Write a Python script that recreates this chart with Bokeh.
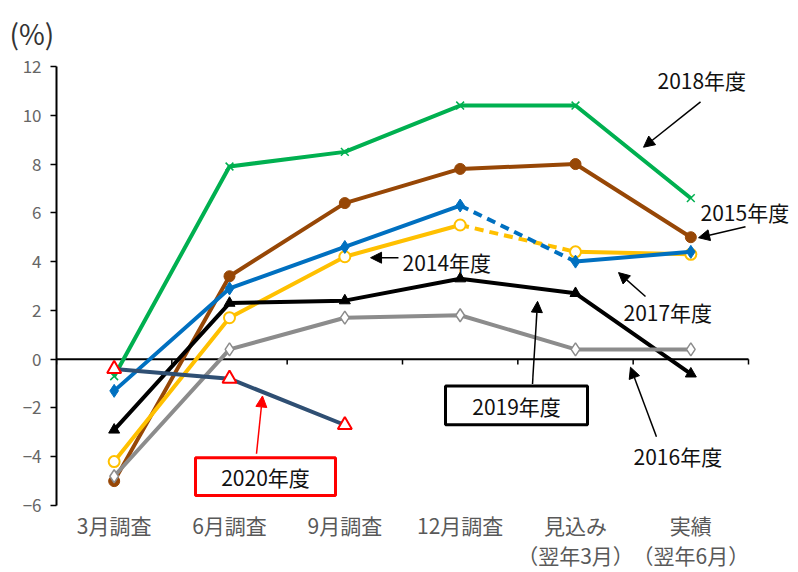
from bokeh.plotting import figure
from bokeh.models import (Range1d, FixedTicker, Arrow, NormalHead, Label,
                          BoxAnnotation)
from bokeh.embed import file_html
from bokeh.resources import INLINE

FONT = "Noto Sans CJK JP"

categories = ["3月調査", "6月調査", "9月調査", "12月調査", "見込み", "実績"]
sub_labels = ["", "", "", "", "（翌年3月）", "（翌年6月）"]
y_ticks = [-6, -4, -2, 0, 2, 4, 6, 8, 10, 12]

fy2014 = [-1.3, 2.9, 4.6, 6.3, 4.0, 4.4]
fy2015 = [-5.0, 3.4, 6.4, 7.8, 8.0, 5.0]
fy2016 = [-4.8, 0.4, 1.7, 1.8, 0.4, 0.4]
fy2017 = [-4.2, 1.7, 4.2, 5.5, 4.4, 4.3]
fy2018 = [-0.7, 7.9, 8.5, 10.4, 10.4, 6.6]
fy2019 = [-2.9, 2.3, 2.4, 3.3, 2.7, -0.6]
fy2020 = [-0.4, -0.8, -2.7]

n = len(categories)
xs = [i + 0.5 for i in range(n)]

W, H = 798, 572
LEFT, TOP, BOTTOM = 56, 66, 65
AXIS_W = 692          # pixel width of the category area
# frame extends to the right edge so that right-side notes are not clipped
x_end = n * (W - LEFT) / AXIS_W

p = figure(width=W, height=H, output_backend="svg", toolbar_location=None,
           x_range=Range1d(0, x_end), y_range=Range1d(y_ticks[0], y_ticks[-1]),
           min_border_left=LEFT, min_border_right=0, min_border_top=TOP,
           min_border_bottom=BOTTOM)
p.outline_line_color = None
p.grid.visible = False
p.background_fill_color = "white"
p.border_fill_color = "white"

# unit label "(%)" above the y axis
p.title.text = "(%)"
p.title.text_font = FONT
p.title.text_font_size = "28px"
p.title.text_font_style = "normal"
p.title.text_color = "#333333"
p.title.align = "left"
p.title.vertical_align = "top"
p.title.offset = -47
p.title.standoff = 24

# y axis
p.yaxis.ticker = FixedTicker(ticks=y_ticks)
p.yaxis.axis_line_color = "black"
p.yaxis.axis_line_width = 2
p.yaxis.major_tick_out = 6
p.yaxis.major_tick_in = 0
p.yaxis.major_tick_line_width = 1.5
p.yaxis.minor_tick_line_color = None
p.yaxis.major_label_text_font = FONT
p.yaxis.major_label_text_font_size = "17px"
p.yaxis.major_label_text_color = "#666666"
p.yaxis.major_label_standoff = 9

# x axis (labels only)
p.xaxis.ticker = FixedTicker(ticks=xs)
p.xaxis.major_label_overrides = {
    x: (c + "\n" + s) if s else c for x, c, s in zip(xs, categories, sub_labels)}
p.xaxis.axis_line_color = None
p.xaxis.major_tick_line_color = None
p.xaxis.minor_tick_line_color = None
p.xaxis.major_tick_out = 0
p.xaxis.major_label_text_font = FONT
p.xaxis.major_label_text_font_size = "21px"
p.xaxis.major_label_text_color = "#595959"
p.xaxis.major_label_text_line_height = 1.0
p.xaxis.major_label_standoff = 4

# zero line with category ticks
bounds = list(range(n + 1))
p.line([bounds[0], bounds[-1]], [0, 0], line_color="black", line_width=2)
p.segment(x0=bounds, y0=[0] * len(bounds), x1=bounds, y1=[-0.22] * len(bounds),
          line_color="black", line_width=1.5)

LW = 4
# 2018 green
p.line(xs, fy2018, line_color="#00B050", line_width=LW)
p.scatter(xs, fy2018, marker="x", size=11, line_color="#00B050", line_width=1.5)
# 2015 brown
p.line(xs, fy2015, line_color="#974706", line_width=LW)
p.scatter(xs, fy2015, marker="circle", size=11, fill_color="#974706",
          line_color="#974706")
# 2017 yellow (dashed 12月 -> 見込み)
p.line(xs[:4], fy2017[:4], line_color="#FFC000", line_width=LW)
p.line(xs[3:5], fy2017[3:5], line_color="#FFC000", line_width=LW, line_dash="9 6")
p.line(xs[4:], fy2017[4:], line_color="#FFC000", line_width=LW)
p.scatter(xs, fy2017, marker="circle", size=11, fill_color="white",
          line_color="#FFC000", line_width=2)
# 2014 blue (dashed 12月 -> 見込み)
p.line(xs[:4], fy2014[:4], line_color="#0070C0", line_width=LW)
p.line(xs[3:5], fy2014[3:5], line_color="#0070C0", line_width=LW, line_dash="9 6")
p.line(xs[4:], fy2014[4:], line_color="#0070C0", line_width=LW)
p.scatter(xs, fy2014, marker="diamond", size=13, fill_color="#0070C0",
          line_color="#0070C0")
# 2019 black
p.line(xs, fy2019, line_color="black", line_width=LW)
p.scatter(xs, fy2019, marker="triangle", size=11, fill_color="black",
          line_color="black")
# 2016 gray
p.line(xs, fy2016, line_color="#8C8C8C", line_width=LW)
p.scatter(xs, fy2016, marker="diamond", size=13, fill_color="white",
          line_color="#8C8C8C", line_width=1.5)
# 2020
x20 = xs[:len(fy2020)]
p.line(x20, fy2020, line_color="#2F4F73", line_width=LW)
p.scatter(x20, fy2020, marker="triangle", size=14, fill_color="white",
          line_color="#FF0000", line_width=2)

# annotations: arrows
def arrow(x0, y0, x1, y1, color="black"):
    p.add_layout(Arrow(x_start=x0, y_start=y0, x_end=x1, y_end=y1,
                       line_color=color, line_width=1.5,
                       end=NormalHead(size=11, fill_color=color, line_color=color)))

arrow(5.584, 10.55, 5.09, 8.69)      # 2018
arrow(5.974, 5.43, 5.567, 4.98)      # 2015
arrow(2.965, 4.16, 2.723, 4.16)      # 2014
arrow(5.107, 2.57, 4.873, 3.55)      # 2017
arrow(4.127, -1.02, 4.171, 2.37)     # 2019
arrow(5.202, -3.18, 4.977, -0.33)    # 2016
arrow(1.734, -3.88, 1.786, -1.51, "#FF0000")  # 2020

def txt(x, y, s, align="left"):
    p.add_layout(Label(x=x, y=y, text=s, text_align=align, text_baseline="middle",
                       text_font=FONT, text_font_size="21px", text_color="#111111"))

txt(5.211, 11.43, "2018年度")
txt(5.584, 6.04, "2015年度")
txt(3.0, 4.0, "2014年度")
txt(4.916, 1.92, "2017年度")
txt(5.003, -3.96, "2016年度")

p.add_layout(BoxAnnotation(left=3.373, right=4.604, top=-1.10, bottom=-2.69,
                           fill_color="white", fill_alpha=1, line_color="black",
                           line_width=3, line_alpha=1))
txt(3.989, -1.92, "2019年度", "center")
p.add_layout(BoxAnnotation(left=1.205, right=2.419, top=-4.04, bottom=-5.59,
                           fill_color="white", fill_alpha=1, line_color="#FF0000",
                           line_width=3, line_alpha=1))
txt(1.812, -4.82, "2020年度", "center")

open("out.html", "w").write(file_html(p, INLINE))
